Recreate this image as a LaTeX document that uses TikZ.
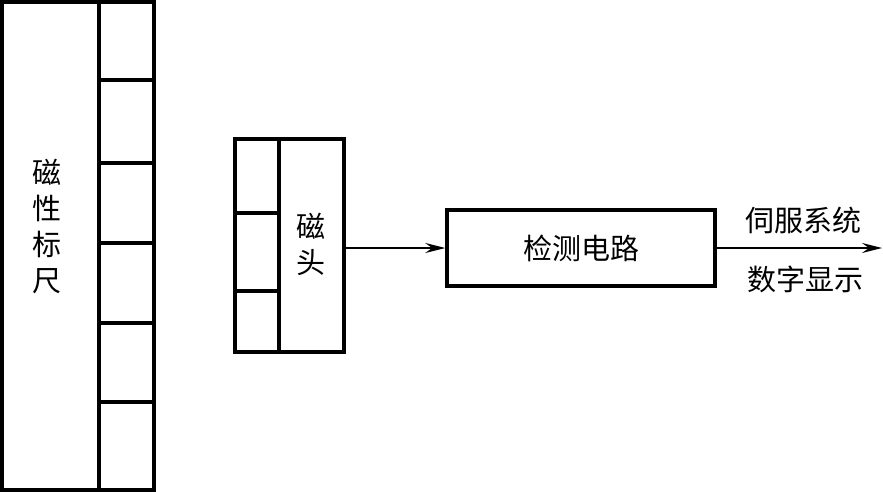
\documentclass[tikz,border=0pt]{standalone}
\usepackage{fontspec}
\setmainfont{Noto Sans CJK SC}
\usetikzlibrary{arrows.meta}
\begin{document}
\begin{tikzpicture}[x=1pt,y=-1pt,
  box/.style={draw, line width=3.5pt, rectangle, inner sep=0pt},
  div/.style={line width=3.5pt},
  arr/.style={line width=1.5pt, -{Stealth[length=20pt,width=10pt,inset=7pt]}},
  txt/.style={font=\fontsize{29}{36}\selectfont, align=center, inner sep=0pt}]
\useasboundingbox (0,0) rectangle (883,492);
% magnetic ruler
\node[box, minimum width=152pt, minimum height=488pt] (ruler) at (78,246) {};
\draw[div] (99,2) -- (99,490);
\foreach \yy in {80,163,243,323,402} \draw[div] (99,\yy) -- (154,\yy);
\node[txt] (rulerlabel) at (47,227) {磁\\性\\标\\尺};
% magnetic head
\node[box, minimum width=109pt, minimum height=213pt] (head) at (289.5,245.5) {};
\draw[div] (279,139) -- (279,352);
\foreach \yy in {213,291} \draw[div] (235,\yy) -- (279,\yy);
\node[txt] (headlabel) at (311,244) {磁\\头};
% detection circuit
\node[box, minimum width=268pt, minimum height=76pt, txt] (circuit) at (581,248) {检测电路};
\coordinate (out) at (882,248);
\draw[arr] (head.east |- circuit.west) -- (circuit.west);
\draw[arr] (circuit.east) -- (out);
\node[txt] (servo) at (803,220) {伺服系统};
\node[txt] (display) at (805,279) {数字显示};
\end{tikzpicture}
\end{document}
